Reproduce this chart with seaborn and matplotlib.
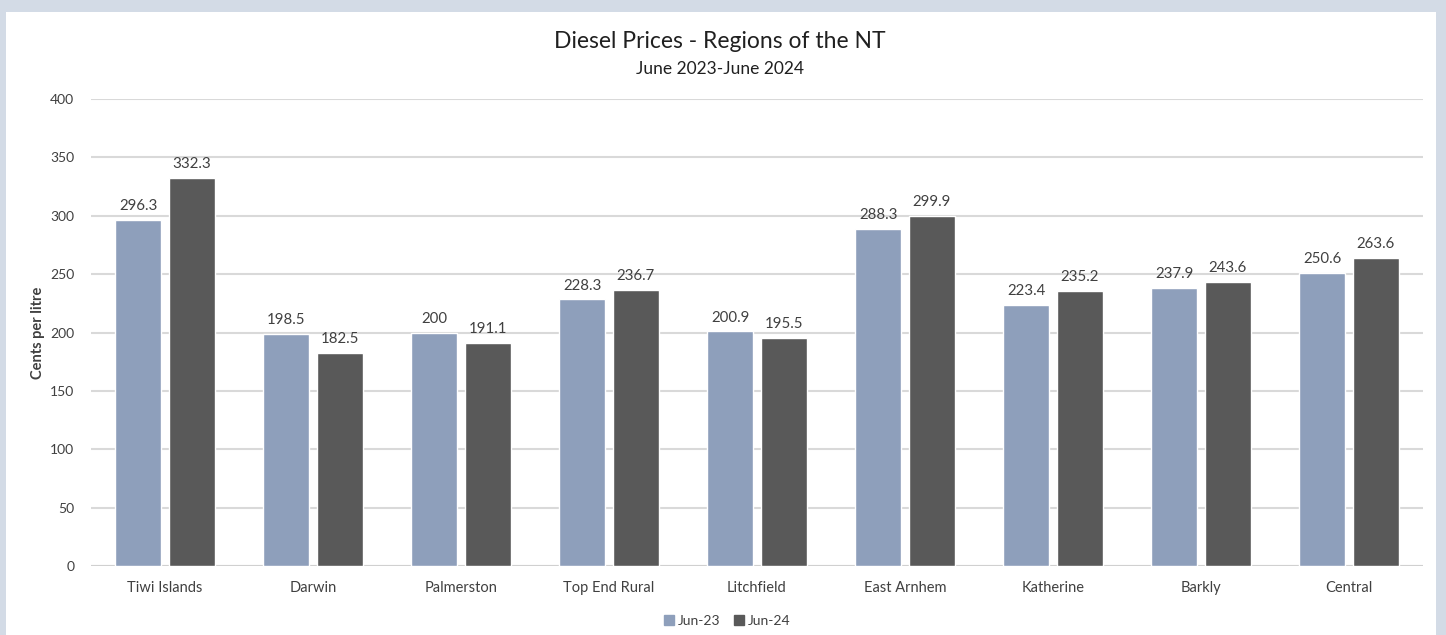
import matplotlib
matplotlib.use("Agg")
import matplotlib.pyplot as plt
import matplotlib.patches as mpatches
import seaborn as sns
import pandas as pd

# Valores
regions = ["Tiwi Islands", "Darwin", "Palmerston", "Top End Rural", "Litchfield",
           "East Arnhem", "Katherine", "Barkly", "Central"]
jun23 = [296.3, 198.5, 200, 228.3, 200.9, 288.3, 223.4, 237.9, 250.6]
jun24 = [332.3, 182.5, 191.1, 236.7, 195.5, 299.9, 235.2, 243.6, 263.6]
series = ["Jun-23", "Jun-24"]
colors = ["#8e9fbb", "#595959"]

df = pd.DataFrame({
    "Region": regions * 2,
    "Period": [series[0]] * len(regions) + [series[1]] * len(regions),
    "Price": jun23 + jun24,
})

sns.set_style("white")
plt.rcParams["font.family"] = ["Lato", "DejaVu Sans"]

fig = plt.figure(figsize=(14.46, 6.35), dpi=100)
fig.patch.set_facecolor("#d3dbe6")
# painel branco (atrás dos eixos)
fig.patches.append(mpatches.Rectangle((6 / 1446, 0), (1436 - 6) / 1446, 1 - 12 / 635,
                                      transform=fig.transFigure, facecolor="white",
                                      edgecolor="none", zorder=-10))

ax = fig.add_axes([91 / 1446, 1 - 566 / 635, (1423 - 91) / 1446, (566 - 99) / 635])
ax.set_facecolor("none")
ax.set_zorder(1)

sns.barplot(data=df, x="Region", y="Price", hue="Period", hue_order=series,
            palette=colors, width=0.72, gap=0.14, ax=ax, legend=False,
            saturation=1, zorder=3)

for cont in ax.containers:
    ax.bar_label(cont, labels=[f"{v:g}" for v in cont.datavalues], padding=5,
                 fontsize=10.8, color="#404040")

ax.set_ylim(0, 400)
ax.set_yticks(range(0, 401, 50))
ax.set_xlim(-0.5, len(regions) - 0.5)
ax.grid(axis="y", color="#d9d9d9", linewidth=1.5, zorder=0)
ax.set_axisbelow(True)
for s in ["top", "right", "left", "bottom"]:
    ax.spines[s].set_visible(False)
ax.axhline(0, color="#d0d0d0", linewidth=1.5, zorder=2)
ax.tick_params(axis="both", length=0, colors="#404040")
ax.tick_params(axis="x", pad=11, labelsize=10.5)
ax.tick_params(axis="y", pad=12, labelsize=10)
ax.set_xlabel("")
ax.set_ylabel("Cents per litre", fontsize=10.5, fontweight="bold", color="#404040", labelpad=4)

fig.text(0.498, 1 - 42 / 635, "Diesel Prices - Regions of the NT", ha="center", va="center",
         fontsize=16.5, color="#202020")
fig.text(0.498, 1 - 69 / 635, "June 2023-June 2024", ha="center", va="center",
         fontsize=12.5, color="#202020")

handles = [mpatches.Patch(color=c, label=s) for c, s in zip(colors, series)]
fig.legend(handles=handles, loc="center", bbox_to_anchor=(0.503, 1 - 621 / 635), ncol=2,
           frameon=False, fontsize=10, handlelength=0.7, handleheight=0.7,
           handletextpad=0.3, columnspacing=1.0, labelcolor="#404040")

fig.savefig("out.png", dpi=100, facecolor=fig.get_facecolor())
